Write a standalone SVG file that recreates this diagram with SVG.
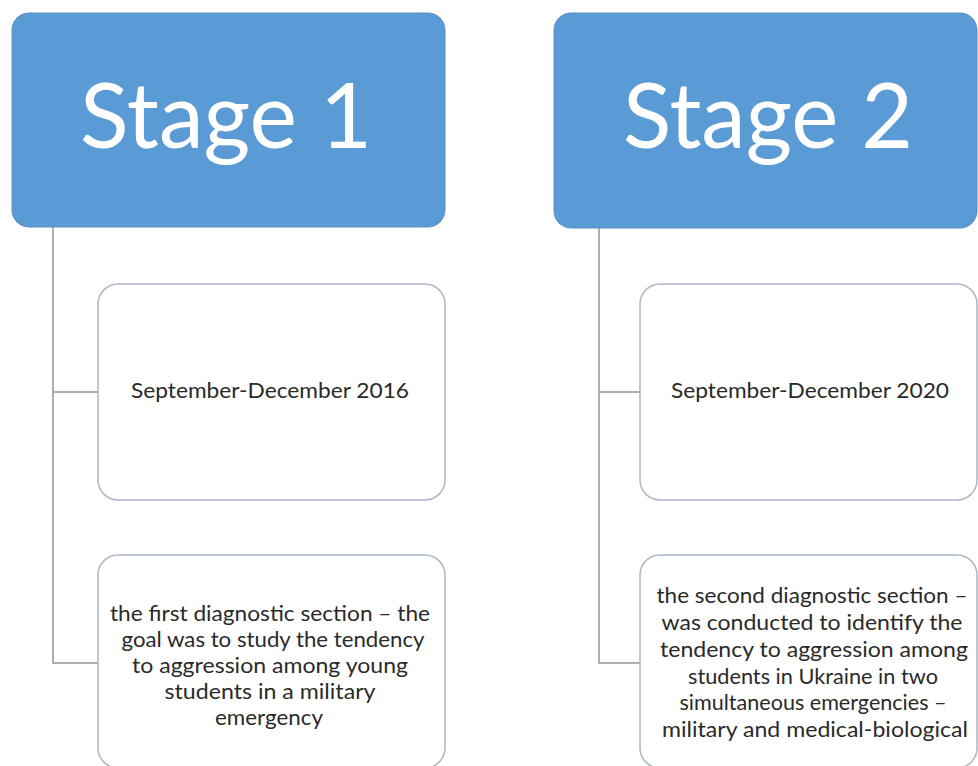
<svg xmlns="http://www.w3.org/2000/svg" width="978" height="766" viewBox="0 0 978 766">
<style>
.head{fill:#5b9bd5;stroke:#5a8fc4;stroke-width:1}
.child{fill:#ffffff;stroke:#aab8c6;stroke-width:1.5}
.conn{fill:none;stroke:#8e969e;stroke-width:1.5}
.title{font-family:Lato,"Open Sans",sans-serif;font-size:92px;fill:#ffffff;text-anchor:middle}
.t{font-family:Lato,"Open Sans",sans-serif;font-size:21.5px;fill:#2a2a2a;text-anchor:middle}
.d{font-family:Lato,"Open Sans",sans-serif;font-size:21px;fill:#2a2a2a;text-anchor:middle}
</style>
<rect width="978" height="766" fill="#ffffff"/>
<g id="connectors">
<path class="conn" d="M53,227 V663 H98 M53,392 H98"/>
<path class="conn" d="M599,228 V663 H640 M599,392 H640"/>
</g>
<g id="stage1">
<rect class="head" x="12" y="13" width="433" height="214" rx="17"/>
<text class="title" x="226" y="148" textLength="292" lengthAdjust="spacingAndGlyphs">Stage 1</text>
</g>
<g id="stage1-date">
<rect class="child" x="98" y="284" width="347" height="216" rx="20"/>
<text class="d" x="270" y="398" textLength="278" lengthAdjust="spacingAndGlyphs">September-December  2016</text>
</g>
<g id="stage1-desc">
<rect class="child" x="98" y="555" width="347" height="213" rx="20"/>
<text class="t" x="270" y="621" textLength="320" lengthAdjust="spacingAndGlyphs">the first diagnostic section – the</text>
<text class="t" x="273" y="647" textLength="303" lengthAdjust="spacingAndGlyphs">goal was to study the tendency</text>
<text class="t" x="270" y="673" textLength="276" lengthAdjust="spacingAndGlyphs">to aggression among young</text>
<text class="t" x="270" y="699" textLength="211" lengthAdjust="spacingAndGlyphs">students in a military</text>
<text class="t" x="269" y="725" textLength="108" lengthAdjust="spacingAndGlyphs">emergency</text>
</g>
<g id="stage2">
<rect class="head" x="554" y="13" width="423" height="215" rx="17"/>
<text class="title" x="768" y="148" textLength="290" lengthAdjust="spacingAndGlyphs">Stage 2</text>
</g>
<g id="stage2-date">
<rect class="child" x="640" y="284" width="337" height="216" rx="20"/>
<text class="d" x="810" y="398" textLength="278" lengthAdjust="spacingAndGlyphs">September-December  2020</text>
</g>
<g id="stage2-desc">
<rect class="child" x="640" y="555" width="337" height="213" rx="20"/>
<text class="t" x="812" y="603" textLength="311" lengthAdjust="spacingAndGlyphs">the second diagnostic section –</text>
<text class="t" x="812" y="630" textLength="301" lengthAdjust="spacingAndGlyphs">was conducted to identify the</text>
<text class="t" x="814" y="657" textLength="308" lengthAdjust="spacingAndGlyphs">tendency to aggression among</text>
<text class="t" x="813" y="684" textLength="250" lengthAdjust="spacingAndGlyphs">students in Ukraine in two</text>
<text class="t" x="813" y="710" textLength="267" lengthAdjust="spacingAndGlyphs">simultaneous emergencies –</text>
<text class="t" x="815" y="737" textLength="306" lengthAdjust="spacingAndGlyphs">military and medical-biological</text>
</g>
</svg>
